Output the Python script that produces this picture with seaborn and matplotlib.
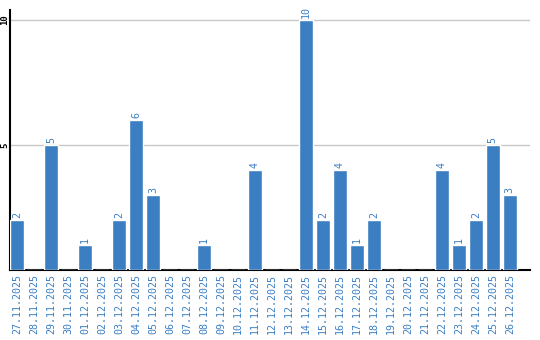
import matplotlib
matplotlib.use("Agg")
import matplotlib.pyplot as plt
import seaborn as sns
import pandas as pd

dates = ["27.11.2025", "28.11.2025", "29.11.2025", "30.11.2025", "01.12.2025",
         "02.12.2025", "03.12.2025", "04.12.2025", "05.12.2025", "06.12.2025",
         "07.12.2025", "08.12.2025", "09.12.2025", "10.12.2025", "11.12.2025",
         "12.12.2025", "13.12.2025", "14.12.2025", "15.12.2025", "16.12.2025",
         "17.12.2025", "18.12.2025", "19.12.2025", "20.12.2025", "21.12.2025",
         "22.12.2025", "23.12.2025", "24.12.2025", "25.12.2025", "26.12.2025"]
counts = [2, 0, 5, 0, 1, 0, 2, 6, 3, 0, 0, 1, 0, 0, 4,
          0, 0, 10, 2, 4, 1, 2, 0, 0, 0, 4, 1, 2, 5, 3]
y_ticks = [5, 10]

sns.set_theme(style="white")
plt.rcParams['font.family'] = ['DejaVu Sans Mono', 'DejaVu Sans']

df = pd.DataFrame({"date": dates, "count": counts})
bar_color = "#3b7ec2"

fig = plt.figure(figsize=(5.4, 3.4), dpi=100)
ax = fig.add_axes([10/540, 70/340, 520/540, 260/340])

sns.barplot(data=df, x="date", y="count", color=bar_color, width=0.82,
            saturation=1, ax=ax, zorder=3)

ax.set_xlim(-0.41, 30.19)
ax.set_ylim(0, 10.4)
ax.set_yticks(y_ticks)
ax.set_yticklabels([str(t) for t in y_ticks], rotation=90, va="center",
                   ha="center", fontsize=6.5, color="black", fontweight="bold")
for t in y_ticks:
    ax.axhline(t, color="#c8c8c8", lw=1, zorder=1)
ax.tick_params(axis="y", length=0, pad=3.6)
ax.tick_params(axis="x", length=0, pad=3)
ax.set_xticks(range(len(dates)))
ax.set_xticklabels(dates, rotation=90, fontsize=7.2, color=bar_color)
ax.set_xlabel("")
ax.set_ylabel("")

for i, v in enumerate(counts):
    if v > 0:
        ax.text(i, v + 0.08, str(v), rotation=90, ha="center", va="bottom",
                fontsize=7.2, color=bar_color)

for s in ["top", "right"]:
    ax.spines[s].set_visible(False)
for s in ["left", "bottom"]:
    ax.spines[s].set_color("black")
    ax.spines[s].set_linewidth(1.5)

fig.savefig("out.png", dpi=100)
